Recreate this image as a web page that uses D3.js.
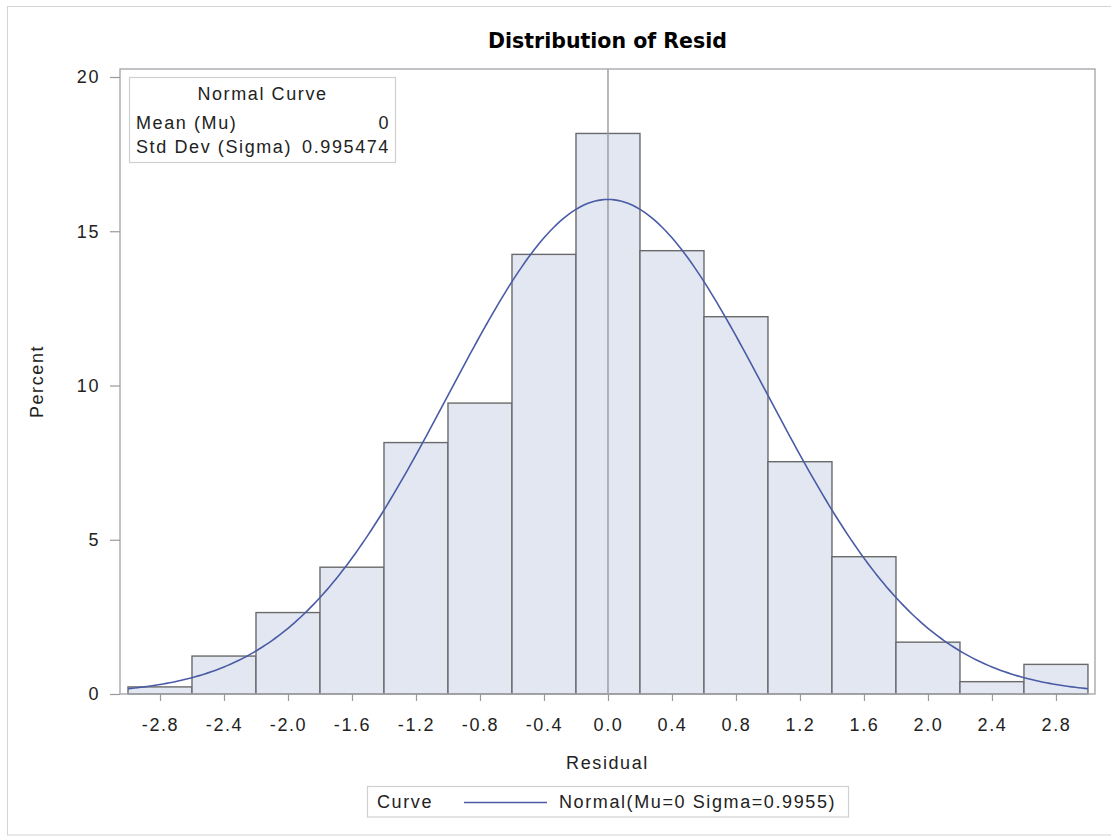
<!DOCTYPE html>
<html>
<head>
<meta charset="utf-8">
<script src="https://cdn.jsdelivr.net/npm/d3@7"></script>
<style>
  html, body { margin: 0; padding: 0; background: #fff; }
  svg { display: block; }
  text { font-family: "Liberation Sans", Arial, sans-serif; fill: #222; }
</style>
</head>
<body>
<svg id="chart" width="1111" height="836"></svg>
<script>
// ---- data ----
const binMidpoints = [-2.8, -2.4, -2.0, -1.6, -1.2, -0.8, -0.4, 0.0, 0.4, 0.8, 1.2, 1.6, 2.0, 2.4, 2.8];
const binPercents  = [0.23, 1.23, 2.64, 4.11, 8.15, 9.43, 14.25, 18.17, 14.37, 12.23, 7.53, 4.45, 1.68, 0.40, 0.96];
const binWidth = 0.4;
const yTicks = [0, 5, 10, 15, 20];
const normalMu = 0;
const normalSigma = 0.995474;
const titleText = "Distribution of Resid";
const xLabel = "Residual";
const yLabel = "Percent";
const insetRows = [["Mean (Mu)", "0"], ["Std Dev (Sigma)", "0.995474"]];
const legendText = "Normal(Mu=0 Sigma=0.9955)";

(function () {
// ---- layout ----
const svg = d3.select("#chart");
const pL = 120, pR = 1095, pT = 69, pB = 694;
const x = d3.scaleLinear().domain([-3.05, 3.044]).range([pL, pR]);
const y = d3.scaleLinear().domain([0, 20]).range([pB, 77]);
const LS = "1.6px";

// outer border
svg.append("rect").attr("x", 7.5).attr("y", 6.5).attr("width", 1110).attr("height", 828.5)
  .attr("fill", "none").attr("stroke", "#d4d4d4").attr("stroke-width", 1);

// title
svg.append("text").attr("x", (pL + pR) / 2).attr("y", 48)
  .attr("text-anchor", "middle")
  .style("font-family", "'DejaVu Sans', Verdana, sans-serif")
  .style("font-weight", "bold").style("font-size", "20.5px").style("fill", "#000")
  .text(titleText);

// bars
svg.append("g").selectAll("rect").data(binMidpoints).join("rect")
  .attr("x", d => x(d - binWidth / 2))
  .attr("width", d => x(d + binWidth / 2) - x(d - binWidth / 2))
  .attr("y", (d, i) => y(binPercents[i]))
  .attr("height", (d, i) => y(0) - y(binPercents[i]))
  .attr("fill", "#e2e7f1").attr("stroke", "#6a6a6a").attr("stroke-width", 1.4);

// reference line at mu
svg.append("line").attr("x1", x(normalMu)).attr("x2", x(normalMu))
  .attr("y1", pT).attr("y2", pB)
  .attr("stroke", "#9a9a9a").attr("stroke-width", 1.4);

// normal curve (percent scale = 100 * binWidth * pdf)
const lo = binMidpoints[0] - binWidth / 2, hi = binMidpoints[binMidpoints.length - 1] + binWidth / 2;
const curvePts = d3.range(0, 301).map(k => {
  const xv = lo + (hi - lo) * k / 300;
  const z = (xv - normalMu) / normalSigma;
  return [xv, 100 * binWidth * Math.exp(-0.5 * z * z) / (normalSigma * Math.sqrt(2 * Math.PI))];
});
svg.append("path").datum(curvePts)
  .attr("d", d3.line().x(d => x(d[0])).y(d => y(d[1])))
  .attr("fill", "none").attr("stroke", "#4a5ba6").attr("stroke-width", 1.6);

// frame
svg.append("rect").attr("x", pL).attr("y", pT).attr("width", pR - pL).attr("height", pB - pT)
  .attr("fill", "none").attr("stroke", "#a6a9ad").attr("stroke-width", 1.4);

// x axis
const xAxis = svg.append("g").attr("transform", `translate(0,${pB})`)
  .call(d3.axisBottom(x).tickValues(binMidpoints).tickFormat(d => (Math.abs(d) < 1e-9 ? 0 : d).toFixed(1))
    .tickSize(7).tickPadding(17).tickSizeOuter(0));
xAxis.select(".domain").remove();
xAxis.selectAll("line").attr("stroke", "#9a9a9a").attr("stroke-width", 1.2);
xAxis.selectAll("text").style("font-size", "18px").style("letter-spacing", LS).style("fill", "#222")
  .attr("font-family", null);

// y axis
const yAxis = svg.append("g").attr("transform", `translate(${pL},0)`)
  .call(d3.axisLeft(y).tickValues(yTicks).tickFormat(d => String(d)).tickSize(10).tickPadding(10).tickSizeOuter(0));
yAxis.select(".domain").remove();
yAxis.selectAll("line").attr("stroke", "#9a9a9a").attr("stroke-width", 1.2);
yAxis.selectAll("text").style("font-size", "18px").style("letter-spacing", LS).style("fill", "#222")
  .attr("font-family", null);

// axis labels
svg.append("text").attr("x", (pL + pR) / 2).attr("y", 769).attr("text-anchor", "middle")
  .style("font-size", "18px").style("letter-spacing", LS).text(xLabel);
svg.append("text").attr("transform", `translate(43,${(pT + pB) / 2}) rotate(-90)`)
  .attr("text-anchor", "middle").style("font-size", "18px").style("letter-spacing", LS).text(yLabel);

// inset stats box
const inset = svg.append("g");
inset.append("rect").attr("x", 129.5).attr("y", 77.5).attr("width", 266).attr("height", 85)
  .attr("fill", "#fff").attr("stroke", "#d0d0d0").attr("stroke-width", 1.2);
inset.append("text").attr("x", 262.5).attr("y", 100).attr("text-anchor", "middle")
  .style("font-size", "18px").style("letter-spacing", LS).text("Normal Curve");
insetRows.forEach((r, i) => {
  inset.append("text").attr("x", 136).attr("y", 129 + i * 23.5)
    .style("font-size", "18px").style("letter-spacing", LS).text(r[0]);
  inset.append("text").attr("x", 390).attr("y", 129 + i * 23.5).attr("text-anchor", "end")
    .style("font-size", "18px").style("letter-spacing", LS).text(r[1]);
});

// bottom legend
const lg = svg.append("g");
lg.append("rect").attr("x", 367.5).attr("y", 786.5).attr("width", 481).attr("height", 30.5)
  .attr("fill", "#fff").attr("stroke", "#d0d0d0").attr("stroke-width", 1.2);
lg.append("text").attr("x", 377).attr("y", 808).style("font-size", "18px").style("letter-spacing", LS).text("Curve");
lg.append("line").attr("x1", 464).attr("x2", 547).attr("y1", 802.5).attr("y2", 802.5)
  .attr("stroke", "#4a5ba6").attr("stroke-width", 1.6);
lg.append("text").attr("x", 559).attr("y", 808).style("font-size", "18px").style("letter-spacing", LS).text(legendText);
})();
</script>
</body>
</html>
